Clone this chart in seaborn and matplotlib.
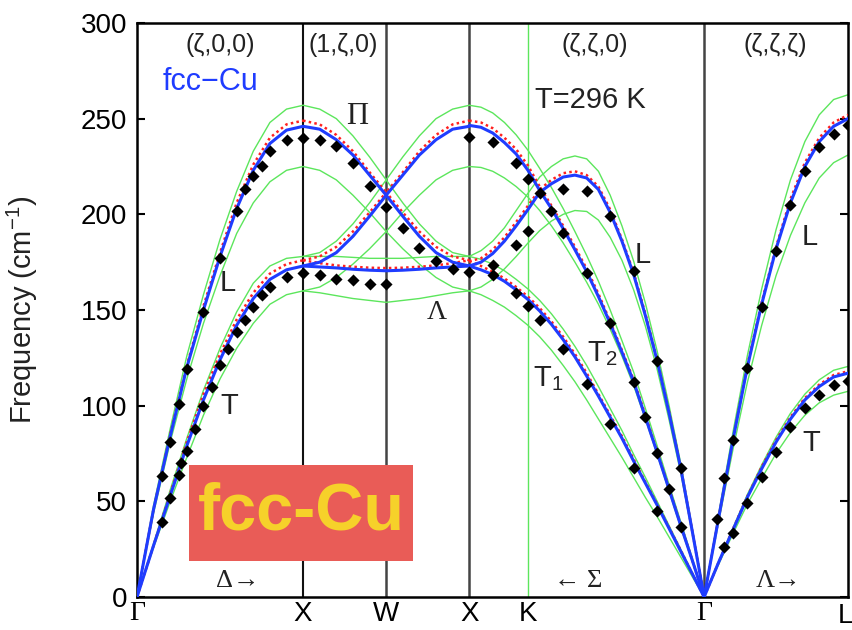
import numpy as np
import pandas as pd
import matplotlib
matplotlib.use("Agg")
import matplotlib.pyplot as plt
from matplotlib.patches import Rectangle
import seaborn as sns

SQ2, SQ3 = np.sqrt(2.0), np.sqrt(3.0)

# High-symmetry points along Γ-X-W-X-K-Γ-L (path length in units of 2π/a)
sym_labels = ["Γ", "X", "W", "X", "K", "Γ", "L"]
sym_pos = [0.0, 1.0, 1.5, 2.0, 2.0 + SQ2 / 4, 2.0 + SQ2, 2.0 + SQ2 + SQ3 / 2]

# ---------------- dispersion curves (cm^-1) ----------------
# Γ-X, (ζ,0,0)
zeta_delta = [0.0, 0.1, 0.2, 0.3, 0.4, 0.5, 0.6, 0.7, 0.8, 0.9, 1.0]
delta_L_blue = [0, 46, 84, 120, 150, 178, 203, 223, 237, 244, 246]
delta_L_red = [0, 46, 85, 121, 152, 180, 206, 226, 240, 247, 249]
delta_L_hi = [0, 48, 88, 126, 158, 187, 212, 233, 248, 255, 257]
delta_L_lo = [0, 44, 81, 114, 143, 168, 190, 206, 217, 223, 225]
delta_T_blue = [0, 27, 53, 79, 103, 124, 142, 156, 166, 171, 173]
delta_T_red = [0, 27, 54, 81, 106, 127, 145, 159, 169, 174, 176]
delta_T_hi = [0, 28, 56, 83, 108, 130, 149, 164, 173, 177, 178]
delta_T_lo = [0, 26, 50, 73, 95, 114, 130, 143, 153, 158, 160]

# X-W-X, (1,ζ,0)
zeta_z = [0.0, 0.1, 0.2, 0.3, 0.4, 0.5, 0.6, 0.7, 0.8, 0.9, 1.0]
z_up_blue = [246, 244.5, 239, 231, 220.5, 210, 220.5, 231, 239, 244.5, 246]
z_mid_blue = [173, 175, 180, 188.5, 199, 210, 199, 188.5, 180, 175, 173]
z_low_blue = [173, 172.5, 172, 171.3, 170.8, 170.5, 170.8, 171.3, 172, 172.5, 173]
z_up_red = [249, 247, 241.5, 233, 222, 211.5, 222, 233, 241.5, 247, 249]
z_mid_red = [176, 178, 183, 191, 201, 211.5, 201, 191, 183, 178, 176]
z_low_red = [176, 174.5, 173.3, 172.6, 172.1, 171.9, 172.1, 172.6, 173.3, 174.5, 176]
z_up_hi = [257, 255, 250, 241, 230, 218, 230, 241, 250, 255, 257]
z_up_lo = [225, 223, 218, 210, 201, 191, 201, 210, 218, 223, 225]
z_mid_hi = [178, 180, 186, 195, 206, 218, 206, 195, 186, 180, 178]
z_mid_lo = [160, 162, 167, 174, 182, 191, 182, 174, 167, 162, 160]
z_low_hi = [178, 178, 178, 177.5, 177, 177, 177, 177.5, 178, 178, 178]
z_low_lo = [160, 159, 157.5, 156, 155, 154, 155, 156, 157.5, 159, 160]

# X-K-Γ, (ζ,ζ,0) with ζ running from 1 (X) to 0 (Γ)
zeta_sigma = [1.00, 0.95, 0.90, 0.85, 0.80, 0.75, 0.70, 0.65, 0.60, 0.55, 0.50,
              0.45, 0.40, 0.35, 0.30, 0.25, 0.20, 0.15, 0.10, 0.05, 0.00]
sigma_T2_blue = [246.5, 245.5, 242.5, 237.5, 231.5, 223, 212.5, 203, 192.5, 181.5, 170,
                 157, 143, 128, 112.5, 94, 75.5, 56.5, 37.5, 19, 0]
sigma_T2_red = [249, 248, 245, 240, 234, 225.5, 214.5, 204.5, 194, 183, 171.5,
                158.5, 144, 129, 113.5, 95, 76, 57, 38, 19, 0]
sigma_T2_hi = [257, 256, 253, 248, 241.5, 233.5, 224, 214, 203, 191, 178.5,
               165, 150, 134, 117.5, 98.5, 79, 59, 39.5, 20, 0]
sigma_T2_lo = [225, 224.5, 222.5, 219, 214.5, 209, 202, 194, 185, 175, 164.5,
               153, 140, 126, 110.5, 93, 74.5, 55.5, 36.5, 18.5, 0]
sigma_L_blue = [173, 175, 179.5, 186, 194, 202.5, 211.5, 216, 219.5, 220.5, 219,
                213, 201, 186, 168.5, 147, 123.5, 96.5, 67.5, 34, 0]
sigma_L_red = [175.5, 177, 181.5, 188, 196, 204.5, 213, 218, 221.5, 222.5, 220.5,
               214.5, 202.5, 187, 169.5, 148, 124, 97, 68, 34, 0]
sigma_L_hi = [178, 181, 186, 193, 202, 211, 219.5, 225, 229, 230.5, 229,
              222.5, 210, 194, 175.5, 153.5, 128.5, 100.5, 70, 35.5, 0]
sigma_L_lo = [160, 162, 166, 171.5, 178, 185, 191.5, 196.5, 200, 202, 201.5,
              197, 188, 176, 160.5, 141.5, 119, 93, 65, 33, 0]
sigma_T1_blue = [173, 171, 168.5, 165, 160.5, 155.5, 149.5, 142.5, 134.5, 125.5, 115.5,
                 105, 94, 83, 71, 59.5, 48, 36, 24, 12, 0]
sigma_T1_red = [175.5, 173, 170, 166.5, 162, 157, 151, 144, 136, 127, 117,
                106, 95, 84, 72, 60, 48.5, 36.5, 24.5, 12, 0]
sigma_T1_hi = [178, 176.5, 174, 170.5, 166, 161, 155, 148, 140, 131, 121,
               110, 98.5, 87, 74.5, 62.5, 50, 37.5, 25, 12.5, 0]
sigma_T1_lo = [160, 158, 155, 151.5, 147, 142, 136, 129, 121, 112.5, 103,
               93, 83, 73, 62.5, 52, 42, 31.5, 21, 10.5, 0]

# Γ-L, (ζ,ζ,ζ)
zeta_lambda = [0.0, 0.05, 0.10, 0.15, 0.20, 0.25, 0.30, 0.35, 0.40, 0.45, 0.50]
lambda_L_blue = [0, 41, 82, 120, 153, 182, 206, 225, 238, 246, 250]
lambda_L_red = [0, 41, 82, 121, 154, 183, 208, 227, 240, 248, 252]
lambda_L_hi = [0, 43, 86, 126, 161, 192, 218, 238, 252, 260, 262.5]
lambda_L_lo = [0, 39, 77, 112, 142, 168, 189, 206, 219, 227, 231]
lambda_T_blue = [0, 18, 35, 52, 67, 81, 93, 103, 110, 115, 117]
lambda_T_red = [0, 18, 35.5, 52.5, 68, 82, 94, 104, 111, 116, 118]
lambda_T_hi = [0, 18.5, 36, 53.5, 69, 83.5, 96, 106, 113.5, 118.5, 120.5]
lambda_T_lo = [0, 17, 33, 48.5, 62, 75, 86, 95, 101.5, 105.5, 107.5]

# ---------------- measured phonons (cm^-1) ----------------
exp_delta_zeta = [0.15, 0.2, 0.25, 0.3, 0.4, 0.5, 0.6, 0.65, 0.7, 0.75, 0.8, 0.9, 1.0,
                  0.15, 0.2, 0.25, 0.265, 0.3, 0.35, 0.4, 0.45, 0.5, 0.55, 0.6, 0.65,
                  0.7, 0.75, 0.8, 0.9, 1.0]
exp_delta_freq = [63, 81, 101, 119, 149, 177, 202, 213, 220, 225, 233, 239, 240,
                  39, 52, 64, 70, 76.5, 88, 100, 110, 121, 129.5, 138.5, 145,
                  151.5, 158, 162, 167, 169.5]
exp_z_zeta = [0.1, 0.2, 0.3, 0.4, 0.5, 0.6, 0.7, 0.8, 0.9,
              0.1, 0.2, 0.3, 0.4, 0.5]
exp_z_freq = [238.8, 235.7, 227, 214.8, 204, 192.7, 182.6, 175.8, 171.4,
              168.3, 166, 165.7, 163.4, 163.4]
exp_sigma_zeta = [1.0, 0.9, 0.8, 0.75, 0.7, 0.65, 0.6, 0.5, 0.4, 0.3, 0.25, 0.2, 0.15, 0.1,
                  0.9, 0.8, 0.75, 0.6, 0.5, 0.4, 0.3, 0.2, 0.1,
                  1.0, 0.9, 0.8, 0.75, 0.7, 0.6, 0.5, 0.4, 0.3, 0.2]
exp_sigma_freq = [240.5, 238, 226.6, 218.3, 211, 201.7, 190.4, 169.2, 143.3, 112.5, 94, 75.4, 56.3, 36.7,
                  173.5, 184, 191.4, 213, 212.3, 199.1, 170.4, 123.5, 67.6,
                  170, 168.3, 158.7, 152, 144.8, 129.4, 111.2, 90.3, 67.6, 44.9]
exp_lambda_zeta = [0.045, 0.07, 0.1, 0.15, 0.2, 0.25, 0.3, 0.35, 0.4, 0.45, 0.5,
                   0.07, 0.1, 0.15, 0.2, 0.25, 0.3, 0.35, 0.4, 0.45, 0.5]
exp_lambda_freq = [41, 62, 82, 119.5, 151.7, 181, 205, 222.6, 235.3, 241.8, 246.7,
                   26.3, 33.3, 49, 62.5, 75.9, 88.8, 98.6, 105.5, 111, 112.7]


def k_delta(z):
    return np.asarray(z, float)


def k_z(z):
    return 1.0 + np.asarray(z, float)


def k_sigma(z):
    return 2.0 + (1.0 - np.asarray(z, float)) * SQ2


def k_lambda(z):
    return 2.0 + SQ2 + SQ3 * np.asarray(z, float)


segments = [
    (k_delta, zeta_delta, {
        "blue": [delta_L_blue, delta_T_blue],
        "red": [delta_L_red, delta_T_red],
        "band": [delta_L_hi, delta_L_lo, delta_T_hi, delta_T_lo]}),
    (k_z, zeta_z, {
        "blue": [z_up_blue, z_mid_blue, z_low_blue],
        "red": [z_up_red, z_mid_red, z_low_red],
        "band": [z_up_hi, z_up_lo, z_mid_hi, z_mid_lo, z_low_hi, z_low_lo]}),
    (k_sigma, zeta_sigma, {
        "blue": [sigma_T2_blue, sigma_L_blue, sigma_T1_blue],
        "red": [sigma_T2_red, sigma_L_red, sigma_T1_red],
        "band": [sigma_T2_hi, sigma_T2_lo, sigma_L_hi, sigma_L_lo, sigma_T1_hi, sigma_T1_lo]}),
    (k_lambda, zeta_lambda, {
        "blue": [lambda_L_blue, lambda_T_blue],
        "red": [lambda_L_red, lambda_T_red],
        "band": [lambda_L_hi, lambda_L_lo, lambda_T_hi, lambda_T_lo]}),
]

rows = []
cid = 0
for kfun, zeta, groups in segments:
    kk = kfun(zeta)
    for kind, curves in groups.items():
        for vals in curves:
            for x, y in zip(kk, vals):
                rows.append((kind, cid, x, y))
            cid += 1
lines = pd.DataFrame(rows, columns=["kind", "curve", "k", "freq"])

points = pd.DataFrame({
    "k": np.concatenate([k_delta(exp_delta_zeta), k_z(exp_z_zeta),
                         k_sigma(exp_sigma_zeta), k_lambda(exp_lambda_zeta)]),
    "freq": np.concatenate([exp_delta_freq, exp_z_freq, exp_sigma_freq, exp_lambda_freq]),
})

# ---------------- figure ----------------
sns.set_theme(style="white")
plt.rcParams["font.family"] = ["Liberation Sans", "DejaVu Sans"]
plt.rcParams["mathtext.default"] = "regular"
SERIF = ["Liberation Serif", "DejaVu Serif"]

fig = plt.figure(figsize=(8.52, 6.30), dpi=100)
ax = fig.add_axes([137 / 852, 1 - 597 / 630, 711 / 852, 574 / 630])

GREEN = "#5ce65c"
BLUE = "#1f3cff"
RED = "#ff2020"

for pos, lab in zip(sym_pos[1:-1], sym_labels[1:-1]):
    if lab == "K":
        ax.axvline(pos, color=GREEN, lw=1.0, zorder=1)
    elif pos == 1.0:
        ax.axvline(pos, color="#111111", lw=1.5, zorder=1)
    else:
        ax.axvline(pos, color="#444444", lw=1.8, zorder=1)

sns.lineplot(data=lines[lines.kind == "band"], x="k", y="freq", units="curve",
             estimator=None, sort=False, color=GREEN, lw=1.0, ax=ax,
             legend=False, zorder=2)
sns.lineplot(data=lines[lines.kind == "red"], x="k", y="freq", units="curve",
             estimator=None, sort=False, color=RED, lw=1.8, ls=(0, (1, 1.3)),
             ax=ax, legend=False, zorder=3)
sns.lineplot(data=lines[lines.kind == "blue"], x="k", y="freq", units="curve",
             estimator=None, sort=False, color=BLUE, lw=2.2, ax=ax,
             legend=False, zorder=4)
sns.scatterplot(data=points, x="k", y="freq", marker="D", s=38, color="black",
                edgecolor="black", linewidth=0, ax=ax, legend=False, zorder=5)

ax.set_xlim(0, sym_pos[-1])
ax.set_ylim(0, 300)
ax.set_yticks(range(0, 301, 50))
ax.set_xticks(sym_pos)
ax.set_xticklabels(sym_labels[:-1] + [""])
for t in ax.get_xticklabels():
    if t.get_text() == "Γ":
        t.set_fontfamily(SERIF)
ax.tick_params(axis="x", length=0, pad=3, labelsize=20, colors="black")
ax.tick_params(axis="y", direction="in", length=6, width=1.5, pad=7,
               labelsize=20, right=True, left=True, colors="black")
# end-of-path label, kept inside the canvas
ax.annotate("L", xy=(1.0, 0.0), xycoords="axes fraction", xytext=(4, -4),
            textcoords="offset points", ha="right", va="top", fontsize=20,
            color="black", annotation_clip=False)
for sp in ax.spines.values():
    sp.set_color("black")
    sp.set_linewidth(1.8)
ax.set_xlabel("")
ax.set_ylabel("Frequency (cm$^{-1}$)", fontsize=21, color="#222222")
ax.yaxis.set_label_coords(-0.137, 0.5)

txt = dict(ha="center", va="center", color="#222222")
ax.text(0.50, 288.5, "(ζ,0,0)", fontsize=18, **txt)
ax.text(1.24, 288.5, "(1,ζ,0)", fontsize=18, **txt)
ax.text(2.757, 288.5, "(ζ,ζ,0)", fontsize=18, **txt)
ax.text(3.841, 288.5, "(ζ,ζ,ζ)", fontsize=18, **txt)
ax.text(0.44, 269, "fcc−Cu", fontsize=22, ha="center", va="center", color=BLUE)
ax.text(2.727, 259.5, "T=296 K", fontsize=21, **txt)
ax.text(1.325, 251, "Π", fontsize=22, family=SERIF, **txt)
ax.text(1.806, 148.5, "Λ", fontsize=20, family=SERIF, **txt)
ax.text(0.548, 164, "L", fontsize=21, **txt)
ax.text(0.554, 100, "T", fontsize=21, **txt)
ax.text(2.474, 114, "T$_1$", fontsize=21, **txt)
ax.text(2.800, 127, "T$_2$", fontsize=21, **txt)
ax.text(3.046, 179, "L", fontsize=21, **txt)
ax.text(4.052, 188, "L", fontsize=21, **txt)
ax.text(4.058, 80.5, "T", fontsize=21, **txt)
ax.text(0.608, 8.5, "Δ→", fontsize=19, family=SERIF, **txt)
ax.text(2.655, 8.5, "← Σ", fontsize=19, family=SERIF, **txt)
ax.text(3.859, 8.5, "Λ→", fontsize=19, family=SERIF, **txt)

# title badge
fig.add_artist(Rectangle((189 / 852, 1 - 561 / 630), 224 / 852, 96 / 630,
                         transform=fig.transFigure, facecolor="#e95c57",
                         edgecolor="none", zorder=10))
fig.text(301 / 852, 1 - 513 / 630, "fcc-Cu", fontsize=48, fontweight="bold",
         color="#f6d12a", ha="center", va="center", zorder=11)

fig.savefig("out.png", dpi=100)
